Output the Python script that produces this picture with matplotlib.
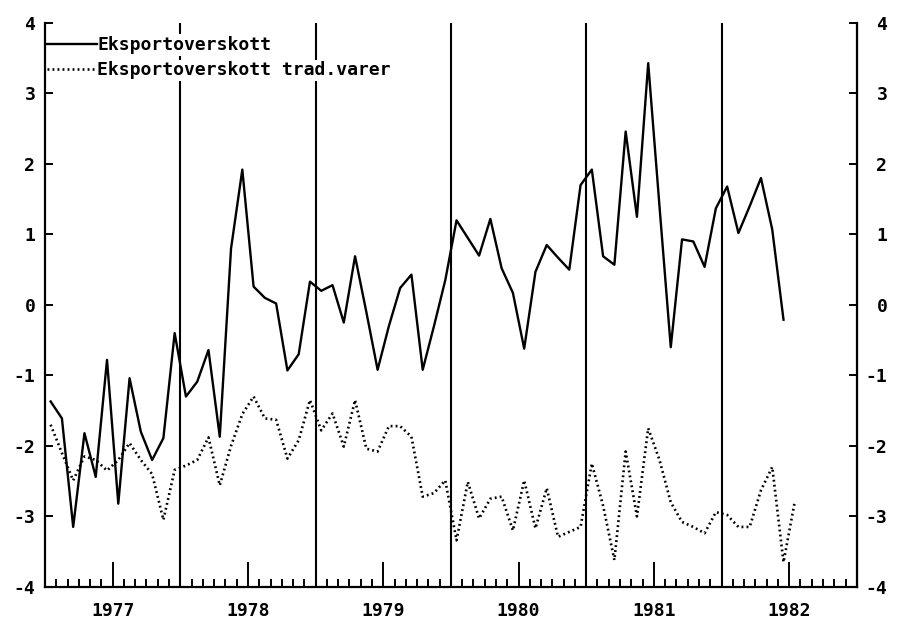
# export surplus, monthly values jan 1977 - jul 1982
from matplotlib import pyplot as plt
import numpy as np

plt.rcParams['font.family'] = ['DejaVu Sans Mono', 'DejaVu Sans']
plt.rcParams['font.weight'] = 'bold'
plt.rcParams['axes.unicode_minus'] = False

# solid series, jan 1977 - jun 1982
eksport = [-1.37, -1.61, -3.15, -1.82, -2.44, -0.78, -2.82, -1.04, -1.80, -2.20, -1.89, -0.40,
           -1.30, -1.09, -0.64, -1.87, 0.80, 1.92, 0.26, 0.10, 0.02, -0.93, -0.70, 0.33,
           0.20, 0.28, -0.25, 0.69, -0.10, -0.92, -0.30, 0.24, 0.43, -0.92, -0.30, 0.35,
           1.20, 0.95, 0.70, 1.22, 0.52, 0.17, -0.62, 0.47, 0.85, 0.67, 0.50, 1.70,
           1.92, 0.69, 0.57, 2.46, 1.25, 3.43, 1.40, -0.60, 0.93, 0.90, 0.54, 1.37,
           1.68, 1.02, 1.40, 1.80, 1.07, -0.21]
# dotted series, jan 1977 - jul 1982
eksport_trad = [-1.70, -2.10, -2.49, -2.15, -2.20, -2.35, -2.20, -1.96, -2.20, -2.40, -3.05, -2.34,
                -2.28, -2.20, -1.88, -2.56, -2.00, -1.55, -1.30, -1.61, -1.63, -2.18, -1.92, -1.35,
                -1.78, -1.54, -2.01, -1.35, -2.04, -2.08, -1.72, -1.72, -1.87, -2.72, -2.67, -2.49,
                -3.34, -2.51, -3.03, -2.75, -2.72, -3.20, -2.49, -3.17, -2.60, -3.29, -3.22, -3.15,
                -2.25, -2.85, -3.62, -2.08, -3.00, -1.75, -2.20, -2.80, -3.08, -3.15, -3.24, -2.94,
                -2.98, -3.15, -3.15, -2.63, -2.30, -3.65, -2.79]
years = ['1977', '1978', '1979', '1980', '1981', '1982']
labels = ['Eksportoverskott', 'Eksportoverskott trad.varer']

fig = plt.figure(figsize=(9, 6.21), dpi=100)
ax = fig.add_axes([0.05, 0.055, 0.902, 0.908])

# months counted from jan 1977, values sit in the middle of each month
x1 = np.arange(len(eksport)) + 0.5
x2 = np.arange(len(eksport_trad)) + 0.5
l1, = ax.plot(x1, eksport, color='black', lw=1.7, zorder=3)
l2, = ax.plot(x2, eksport_trad, color='black', lw=1.9, ls=(0, (0.7, 1.2)), zorder=3)

# year boundaries
for m in range(12, 72, 12):
    ax.axvline(m, color='black', lw=1.5, zorder=2)

ax.set_xlim(0, 72)
ax.set_ylim(-4, 4)
ax.spines['top'].set_visible(False)
for s in ['left', 'right', 'bottom']:
    ax.spines[s].set_linewidth(1.6)
    ax.spines[s].set_zorder(6)

ax.set_xticks([6 + 12 * i for i in range(len(years))], years)
ax.set_xticks([m for m in range(1, 72) if m % 6 != 0], minor=True)
ax.tick_params(axis='x', which='major', direction='in', length=18, width=1.4, pad=11, labelsize=13)
ax.tick_params(axis='x', which='minor', direction='in', length=6, width=1.4)

ax.set_yticks(np.arange(-4, 5))
ax.tick_params(axis='y', direction='in', length=6, width=1.4, pad=7, labelsize=13)

sec = ax.secondary_yaxis('right')
sec.set_yticks(np.arange(-4, 5))
sec.tick_params(axis='y', direction='in', length=6, width=1.4, pad=22, labelsize=13)
for t in sec.get_yticklabels():
    t.set_horizontalalignment('right')

# legend, one box per line so only the text hides the year lines
leg1 = ax.legend([l1], [labels[0]], loc='upper left', bbox_to_anchor=(0, 0.98),
                 borderaxespad=0, borderpad=0.1, handlelength=2.8, handletextpad=0,
                 fancybox=False, framealpha=1, edgecolor='none', fontsize=13)
leg1.set_zorder(5)
ax.add_artist(leg1)
leg2 = ax.legend([l2], [labels[1]], loc='upper left', bbox_to_anchor=(0, 0.935),
                 borderaxespad=0, borderpad=0.1, handlelength=2.8, handletextpad=0,
                 fancybox=False, framealpha=1, edgecolor='none', fontsize=13)
leg2.set_zorder(5)

fig.savefig('out.png', dpi=100)
